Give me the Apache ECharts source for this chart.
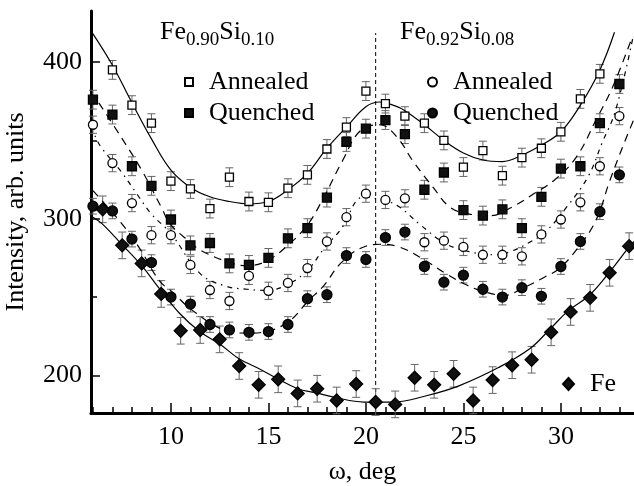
<!DOCTYPE html>
<html style="height: 100%">
<head>
<meta charset="utf-8">
<script src="https://cdn.jsdelivr.net/npm/echarts@6/dist/echarts.min.js"></script>
</head>
<body style="height: 100%; margin: 0; background: #fff">
<div id="container" style="width: 634px; height: 486px"></div>
<script type="text/javascript">
// ------ data ------
// Fe0.90Si0.10 annealed (open squares)
var xA = [7,8,9,10,11,12,13,14,15,16,17,18,19,20,21,22,23,24,25,26,27,28,29,30,31,32];
var yA = [395,372.5,361,324,319,306.5,326.5,311,310.5,319.5,328,344.5,358.5,381.5,373.5,365.5,361,350,333,343.5,327.5,339,345,355.5,376.5,392.5];
// Fe0.90Si0.10 quenched (filled squares)
var xB = [6,7,8,9,10,11,12,13,14,15,16,17,18,19,20,21,22,23,24,25,26,27,28,29,30,31,32,33];
var yB = [376,366.5,333.5,321,299.5,283,284.5,271.5,270.5,275,287.5,294,313.5,349,357.5,363,354,318.5,329.5,305.5,302,306,294,314,332,333.5,361,386];
// Fe0.92Si0.08 annealed (open circles)
var xC = [6,7,8,9,10,11,12,13,14,15,16,17,18,19,20,21,22,23,24,25,26,27,28,29,30,31,32,33];
var yC = [360,335.5,310,289.5,289.5,270.5,254.5,247.5,263.5,254,259,268.5,285.5,301,316,312,313,285,286,282,277,277,276,290,299.5,310.5,333.5,365.5];
// Fe0.92Si0.08 quenched (filled circles)
var xD = [6,7,8,9,10,11,12,13,14,15,16,17,18,19,20,21,22,23,24,25,26,27,28,29,30,31,32,33];
var yD = [308,305,287,272,250,245.5,232.5,229,227.5,228,232.5,249,251.5,276.5,274,288,291.5,269.5,259.5,264,255,250,256,250.5,269.5,285.5,304.5,328];
// Fe (diamonds)
var xE = [6.5,7.5,8.5,9.5,10.5,11.5,12.5,13.5,14.5,15.5,16.5,17.5,18.5,19.5,20.5,21.5,22.5,23.5,24.5,25.5,26.5,27.5,28.5,29.5,30.5,31.5,32.5,33.5];
var yE = [306,283,271.5,252,228.5,229,223,206,194,197.5,188.5,191.5,184,194.5,183,181.5,198.5,194,201,184,197,206.5,210,227.5,240.5,249.5,265.5,282.5];
// error bar half-heights
var errA = 6, errB = 6, errC = 5.5, errD = 5, errE = 8.5;

// fitted curves
var fitAx = [5.95,7,8,9,10,11,12,13,14,15,16,17,18,19,20,20.7,21.5,22,23,24,25,26,27,28,29,30,31,32,32.75];
var fitAy = [419,398,374,351,331,320,314,311,309.5,311,318.5,329,345,358.5,371.5,374.5,372,369,360,350,342,337.5,336.5,340.5,347,355.5,372.5,395,419];
var fitBx = [6.3,7.45,8.5,9.5,10,11,11.5,12.9,13.9,14.9,15.9,17,17.85,18.8,19.7,20.7,21.6,22.4,23.45,24.3,25.3,26.4,27.5,28.5,29.7,30.8,31.8,32.65,33.6];
var fitBy = [374,352,331,307.5,296,285,280,272.5,270,273,282,296,314,337,356,360,352,337,320,307.5,303,302,307.5,315,325,339.5,363,384,414];
var fitCx = [6.1,6.4,7.45,8.3,9,10,11.5,12.8,13.9,14.9,15.9,17,17.85,18.7,19.9,20.75,21.6,22.8,24.1,25.3,26.5,27.4,28.4,29.2,30.3,31.4,32.1,32.8,33.7];
var fitCy = [353,346,330,315,303,290.5,265,257,255,254.3,257.5,267,281,293,314,312,308.5,296,284,279,277,279,285,291.5,307.5,327,348,369,416];
var fitDx = [6,7.6,8.5,9.4,10.1,11.1,12.85,13.9,14.9,16.1,17,17.85,18.7,19.7,20.7,21.7,22.9,24.1,25.2,26.2,27.1,28,29.2,29.9,30.85,31.8,32.5,33.3,33.8];
var fitDy = [318,295,279,260.5,253,241.5,228.5,227,228,235,247,257.5,271.5,281,283.7,282,274.5,265,257.5,253,251,255.4,263,268,281,299,324,350,365];
var fitEx = [6,6.45,7.45,8.5,9.4,10.45,11.47,12.5,13.45,14.4,15.45,16.5,17.4,18.4,19.9,21.4,23.1,24.8,26.8,28.4,29.4,30.4,31.45,32.5,33.5,33.8];
var fitEy = [301,297,284,270,255.5,239.5,228,220,211,205,198,191.5,189,186,183,183,187,193.5,205,217,229,241.5,251,266,282,286];

// tick positions
var xMajor = [10,15,20,25,30];
var xMinor = [6,7,8,9,11,12,13,14,16,17,18,19,21,22,23,24,26,27,28,29,31,32,33];
var yMajor = [200,300,400];
var yMinor = [250,350];
var dividerX = 20.5;
//------------------------------------------

var FONT = "'Liberation Serif', 'DejaVu Serif', serif";
var dom = document.getElementById("container");
var myChart = echarts.init(dom, null, {renderer: 'canvas'});

function zip(xs, ys) {
	var arr = [];
	for (var i = 0; i < xs.length; i++) arr.push([xs[i], ys[i]]);
	return arr;
}
function zipErr(xs, ys, e) {
	var arr = [];
	for (var i = 0; i < xs.length; i++) arr.push([xs[i], ys[i], e]);
	return arr;
}

function renderErr(params, api) {
	var x = api.value(0), y = api.value(1), e = api.value(2);
	var p1 = api.coord([x, y + e]);
	var p2 = api.coord([x, y - e]);
	var hw = 4;
	var st = {stroke: '#666', lineWidth: 1};
	return {
		type: 'group',
		children: [
			{type: 'line', shape: {x1: p1[0], y1: p1[1], x2: p2[0], y2: p2[1]}, style: st},
			{type: 'line', shape: {x1: p1[0] - hw, y1: p1[1], x2: p1[0] + hw, y2: p1[1]}, style: st},
			{type: 'line', shape: {x1: p2[0] - hw, y1: p2[1], x2: p2[0] + hw, y2: p2[1]}, style: st}
		]
	};
}

function errSeries(xs, ys, e) {
	return {
		type: 'custom', renderItem: renderErr, data: zipErr(xs, ys, e),
		xAxisIndex: 0, yAxisIndex: 0, z: 2, silent: true
	};
}
function fitSeries(xs, ys, type) {
	return {
		type: 'line', data: zip(xs, ys), smooth: 0.4, symbol: 'none', silent: true,
		lineStyle: {color: '#000', width: 1.2, type: type}, z: 3
	};
}
function ptSeries(name, xs, ys, symbol, size, fill) {
	return {
		name: name, type: 'scatter', data: zip(xs, ys), symbol: symbol, symbolSize: size,
		itemStyle: {color: fill, borderColor: '#000', borderWidth: 1.3, opacity: 1}, z: 5
	};
}

var legendText = {fontSize: 26, fontFamily: FONT, color: '#000', padding: [0, 0, 0, 11]};

var option = {
	animation: false,
	grid: {left: 91, right: 0, top: 11, bottom: 73, containLabel: false, outerBoundsMode: 'none'},
	graphic: [
		{type: 'text', left: 160, top: 19, style: {
			text: '{m|Fe}{s|0.90}{m|Si}{s|0.10}',
			rich: {m: {fontSize: 26, fontFamily: FONT, fill: '#000', verticalAlign: 'top', lineHeight: 26},
				   s: {fontSize: 19, fontFamily: FONT, fill: '#000', lineHeight: 42}}
		}},
		{type: 'text', left: 400, top: 19, style: {
			text: '{m|Fe}{s|0.92}{m|Si}{s|0.08}',
			rich: {m: {fontSize: 26, fontFamily: FONT, fill: '#000', verticalAlign: 'top', lineHeight: 26},
				   s: {fontSize: 19, fontFamily: FONT, fill: '#000', lineHeight: 42}}
		}}
	],
	legend: [
		{data: ['A90 Annealed', 'Q90 Quenched'], orient: 'vertical', left: 184, top: 69, padding: 0,
		 itemWidth: 8, itemHeight: 8, itemGap: 5, selectedMode: false,
		 formatter: function (n) { return n.split(' ')[1]; }, textStyle: legendText},
		{data: ['A92 Annealed', 'Q92 Quenched'], orient: 'vertical', left: 427, top: 69, padding: 0,
		 itemWidth: 9, itemHeight: 9, itemGap: 5, selectedMode: false,
		 formatter: function (n) { return n.split(' ')[1]; }, textStyle: legendText},
		{data: ['Fe'], left: 562, top: 371, padding: 0, itemWidth: 11, itemHeight: 12, selectedMode: false,
		 textStyle: legendText}
	],
	xAxis: [
		{type: 'value', min: 5.9, max: 33.75,
		 name: 'ω, deg', nameLocation: 'middle', nameGap: 46,
		 nameTextStyle: {fontSize: 26, fontFamily: FONT, color: '#000'},
		 axisLine: {show: true, onZero: false, lineStyle: {color: '#000', width: 3}},
		 axisTick: {show: true, inside: true, length: 10, customValues: xMajor, lineStyle: {color: '#000', width: 1.5}},
		 axisLabel: {customValues: xMajor, fontSize: 26, fontFamily: FONT, color: '#000', margin: 11},
		 splitLine: {show: false}},
		{type: 'value', min: 5.9, max: 33.75, position: 'bottom',
		 axisLine: {show: false},
		 axisTick: {show: true, inside: true, length: 6, customValues: xMinor, lineStyle: {color: '#000', width: 1.5}},
		 axisLabel: {show: false}, splitLine: {show: false}}
	],
	yAxis: [
		{type: 'value', min: 176, max: 432.6,
		 name: 'Intensity, arb. units', nameLocation: 'middle', nameGap: 62, nameRotate: 90,
		 nameTextStyle: {fontSize: 26, fontFamily: FONT, color: '#000'},
		 axisLine: {show: true, onZero: false, lineStyle: {color: '#000', width: 3}},
		 axisTick: {show: true, inside: true, length: 9, customValues: yMajor, lineStyle: {color: '#000', width: 1.5}},
		 axisLabel: {customValues: yMajor, fontSize: 26, fontFamily: FONT, color: '#000', margin: 9},
		 splitLine: {show: false}},
		{type: 'value', min: 176, max: 432.6, position: 'left',
		 axisLine: {show: false},
		 axisTick: {show: true, inside: true, length: 6, customValues: yMinor, lineStyle: {color: '#000', width: 1.5}},
		 axisLabel: {show: false}, splitLine: {show: false}}
	],
	series: [
		{type: 'line', data: [[dividerX, 176], [dividerX, 418.5]], symbol: 'none', silent: true,
		 lineStyle: {color: '#000', width: 1, type: [4, 3]}, z: 1},
		errSeries(xA, yA, errA),
		errSeries(xB, yB, errB),
		errSeries(xC, yC, errC),
		errSeries(xD, yD, errD),
		errSeries(xE, yE, errE),
		fitSeries(fitAx, fitAy, 'solid'),
		fitSeries(fitBx, fitBy, [8, 6]),
		fitSeries(fitCx, fitCy, [1.5, 5, 5, 5]),
		fitSeries(fitDx, fitDy, [8, 6]),
		fitSeries(fitEx, fitEy, 'solid'),
		ptSeries('A92 Annealed', xC, yC, 'circle', 9, '#fff'),
		ptSeries('Q92 Quenched', xD, yD, 'circle', 10, '#111'),
		ptSeries('A90 Annealed', xA, yA, 'rect', 8, '#fff'),
		ptSeries('Q90 Quenched', xB, yB, 'rect', 9, '#111'),
		ptSeries('Fe', xE, yE, 'diamond', 13, '#111')
	]
};

myChart.setOption(option);
</script>
</body>
</html>
